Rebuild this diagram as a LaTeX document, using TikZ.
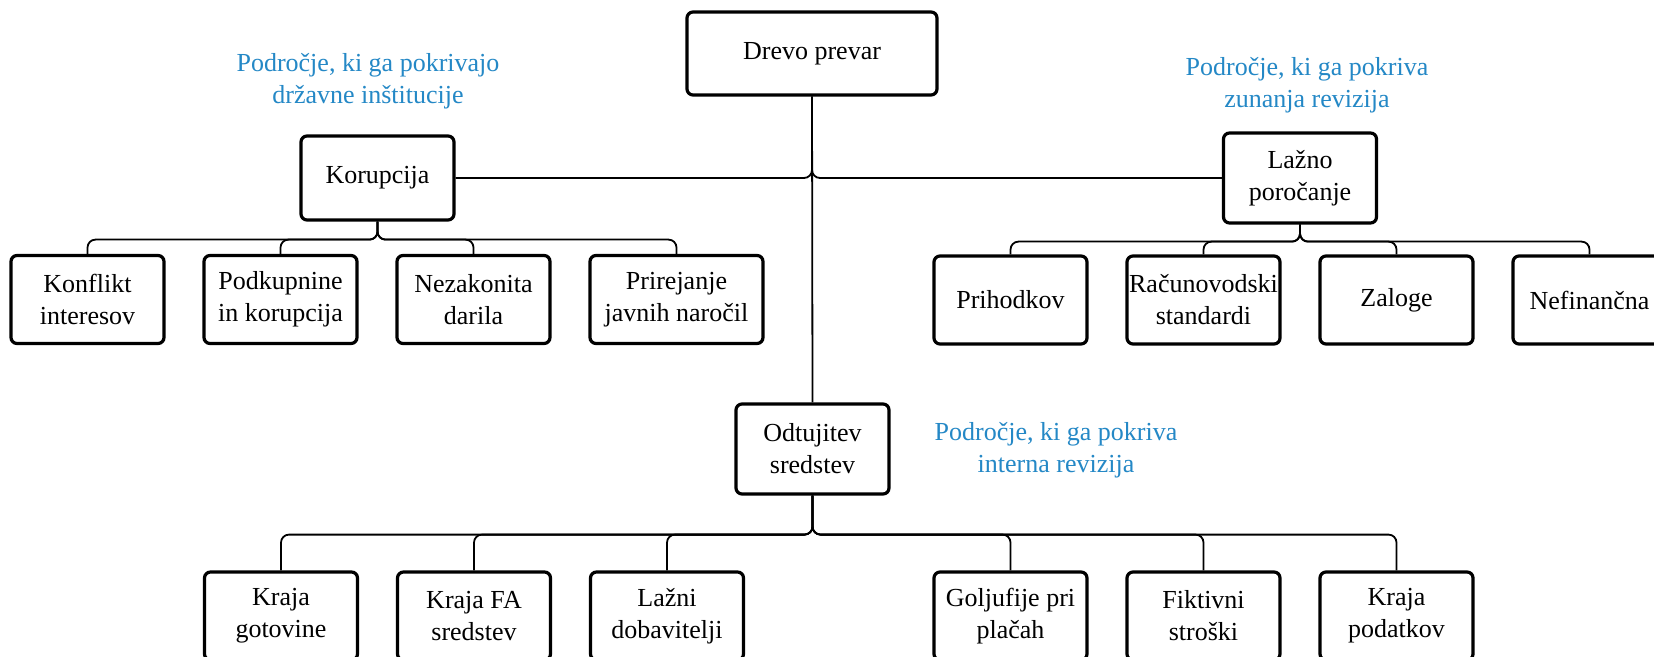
\documentclass[tikz,border=0pt]{standalone}
\usepackage{fontspec}
\setmainfont{Liberation Serif}
\definecolor{podrocje}{RGB}{36,136,198}
\tikzset{%
	% Specifications for style of nodes:
	base/.style = {rectangle, rounded corners=3pt, draw=black, line width=1.6pt,
		minimum width=76.5pt, minimum height=44pt, inner sep=1pt,
		text centered, align=center, fill=white},
	root/.style = {base, minimum width=125pt, minimum height=41.5pt},
	area/.style = {text=podrocje, align=center},
	conn/.style = {line width=0.9pt, rounded corners=4pt}
}

\begin{document}
\begin{tikzpicture}[x=0.5pt, y=-0.5pt, node distance=96.5pt,
	every node/.style={font=\fontsize{13}{16}\selectfont}]
	\path[use as bounding box, fill=white] (0,0) rectangle (1654,657);
	% Specification of nodes (position, etc.)
	\node (drevo) [root] at (812,53.5) {Drevo prevar};
	\node (kor)   [base, minimum height=42pt] at (377.5,178) {Korupcija};
	\node (laz)   [base, minimum height=45pt] at (1300,178) {Lažno\\poročanje};
	\node (odt)   [base, minimum height=45pt] at (812.5,449) {Odtujitev\\sredstev};
	
	% Korupcija
	\node (konf)  [base] at (87.5,299.5)   {Konflikt\\interesov};
	\node (podk)  [base, right of=konf]   {Podkupnine\\in korupcija};
	\node (nez)   [base, right of=podk]   {Nezakonita\\darila};
	\node (prir)  [base, right of=nez, xshift=5pt, minimum width=86.5pt] {Prirejanje\\javnih naročil};
	
	% Lažno poročanje
	\node (prih)  [base] at (1010.5,300)   {Prihodkov};
	\node (racun) [base, right of=prih]   {Računovodski\\standardi};
	\node (zal)   [base, right of=racun]  {Zaloge};
	\node (nefin) [base, right of=zal]    {Nefinančna};
	
	% Odtujitev sredstev
	\node (gotov) [base] at (281,616)      {Kraja\\gotovine};
	\node (fa)    [base, right of=gotov]  {Kraja FA\\sredstev};
	\node (dob)   [base, right of=fa]     {Lažni\\dobavitelji};
	\node (plac)  [base] at (1010.5,616)   {Goljufije pri\\plačah};
	\node (fikt)  [base, right of=plac]   {Fiktivni\\stroški};
	\node (podat) [base, right of=fikt]   {Kraja\\podatkov};
	
	% Areas
	\node (drzavne) [area] at (368,81)   {Področje, ki ga pokrivajo\\državne inštitucije};
	\node (zunanja) [area] at (1307,85)  {Področje, ki ga pokriva\\zunanja revizija};
	\node (interna) [area] at (1056,450) {Področje, ki ga pokriva\\interna revizija};
	
	\draw[conn] (drevo.south) |- (kor.east);
	\draw[conn] (drevo.south) |- (laz.west);
	\draw[conn] (drevo.south) -- (odt.north);
	\foreach \kid in {konf,podk,nez,prir}
		\draw[conn] (kor.south) -- ++(0,18) -| (\kid.north);
	\foreach \kid in {prih,racun,zal,nefin}
		\draw[conn] (laz.south) -- ++(0,17) -| (\kid.north);
	\foreach \kid in {gotov,fa,dob,plac,fikt,podat}
		\draw[conn] (odt.south) -- ++(0,39) -| (\kid.north);
\end{tikzpicture}
\end{document}
